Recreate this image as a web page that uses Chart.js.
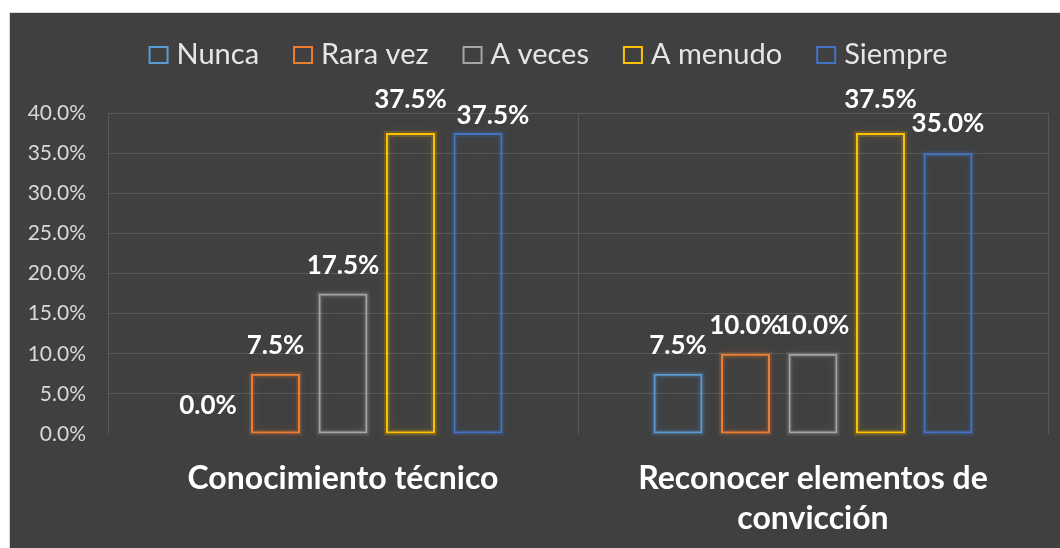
<!DOCTYPE html>
<html><head><meta charset="utf-8">
<script src="https://cdn.jsdelivr.net/npm/chart.js@4.4.0/dist/chart.umd.min.js"></script>
<style>
html,body{margin:0;padding:0;background:#fff;width:1060px;height:548px;overflow:hidden}
#frame{position:absolute;left:9px;top:12px;width:1050px;height:535px;border-left:1px solid #d9d9d9;border-top:1px solid #d9d9d9;background:#404040}
#wrap{position:absolute;left:10px;top:13px;width:1050px;height:535px}
</style></head><body>
<div id="frame"></div>
<div id="wrap"><canvas id="c" width="1050" height="535"></canvas></div>
<script>
// ---- data ----
const categories = ['Conocimiento técnico', ['Reconocer elementos de', 'convicción']];
const seriesNames = ['Nunca', 'Rara vez', 'A veces', 'A menudo', 'Siempre'];
const nunca   = [0.0, 7.5];
const raraVez = [7.5, 10.0];
const aVeces  = [17.5, 10.0];
const aMenudo = [37.5, 37.5];
const siempre = [37.5, 35.0];
const yMin = 0, yMax = 40, yStep = 5;

// ---- styles ----
const seriesColors = ['#5B9BD5', '#ED7D31', '#A5A5A5', '#FFC000', '#4472C4'];
const seriesValues = [nunca, raraVez, aVeces, aMenudo, siempre];

function rgba(hex, a) {
  const n = parseInt(hex.slice(1), 16);
  return `rgba(${(n >> 16) & 255},${(n >> 8) & 255},${n & 255},${a})`;
}

const glowPlugin = {
  id: 'glow',
  beforeDatasetsDraw(chart) {
    const ctx = chart.ctx;
    chart.data.datasets.forEach((ds, i) => {
      const meta = chart.getDatasetMeta(i);
      meta.data.forEach(el => {
        const p = el.getProps(['x', 'y', 'base', 'width'], true);
        if (Math.abs(p.base - p.y) < 1) return;
        ctx.save();
        ctx.shadowColor = rgba(ds.borderColor, 0.55);
        ctx.shadowBlur = 10;
        ctx.strokeStyle = rgba(ds.borderColor, 0.18);
        ctx.lineWidth = 6;
        ctx.strokeRect(p.x - p.width / 2 + 1, p.y + 1, p.width - 2, p.base - p.y - 2);
        ctx.restore();
      });
    });
  }
};

const labelPlugin = {
  id: 'valueLabels',
  afterDatasetsDraw(chart, args, opts) {
    const ctx = chart.ctx;
    ctx.save();
    ctx.font = 'bold 26px Lato';
    ctx.fillStyle = '#ffffff';
    ctx.textAlign = 'center';
    ctx.textBaseline = 'middle';
    chart.data.datasets.forEach((ds, i) => {
      const meta = chart.getDatasetMeta(i);
      meta.data.forEach((el, j) => {
        const nudge = (opts.nudge && opts.nudge[i + '-' + j]) || [0, 0];
        const v = ds.data[j];
        ctx.fillText(v.toFixed(1) + '%', el.x + nudge[0], el.y - opts.offset + nudge[1]);
      });
    });
    ctx.restore();
  }
};

const legendPlugin = {
  id: 'customLegend',
  afterDraw(chart, args, opts) {
    const ctx = chart.ctx;
    ctx.save();
    ctx.font = opts.font;
    const items = chart.data.datasets.map(ds => ({ text: ds.label, color: ds.borderColor, w: ctx.measureText(ds.label).width }));
    const total = items.reduce((s, it) => s + opts.boxW + opts.boxGap + it.w, 0) + opts.itemGap * (items.length - 1);
    let x = opts.centerX - total / 2;
    const cy = opts.centerY;
    items.forEach(it => {
      ctx.strokeStyle = it.color;
      ctx.lineWidth = 2;
      ctx.strokeRect(x + 1, cy - opts.boxH / 2 + 1, opts.boxW - 2, opts.boxH - 2);
      x += opts.boxW + opts.boxGap;
      ctx.fillStyle = '#e6e6e6';
      ctx.textAlign = 'left';
      ctx.textBaseline = 'middle';
      ctx.fillText(it.text, x, cy);
      x += it.w + opts.itemGap;
    });
    ctx.restore();
  }
};

new Chart(document.getElementById('c'), {
  type: 'bar',
  data: {
    labels: categories,
    datasets: seriesNames.map((name, i) => ({
      label: name,
      data: seriesValues[i],
      backgroundColor: 'rgba(0,0,0,0)',
      borderColor: seriesColors[i],
      borderWidth: 2,
      borderSkipped: false,
      categoryPercentage: 0.718,
      barPercentage: 0.726
    }))
  },
  options: {
    responsive: false,
    animation: false,
    events: [],
    layout: { padding: { top: 100, right: 12, left: 0, bottom: 0 } },
    plugins: {
      legend: { display: false },
      tooltip: { enabled: false },
      valueLabels: { offset: 28, nudge: { '4-0': [15, 11], '3-0': [0, -5], '3-1': [0, -5], '4-1': [0, -2] } },
      customLegend: { font: '29px Lato', boxW: 20, boxH: 18, boxGap: 8, itemGap: 34, centerX: 538, centerY: 42 }
    },
    scales: {
      x: {
        grid: { color: '#595959', lineWidth: 1, drawTicks: false, offset: true },
        border: { display: false },
        ticks: {
          color: '#ffffff',
          font: { family: 'Lato', size: 32, weight: 'bold', lineHeight: 1.25 },
          padding: 25, maxRotation: 0, autoSkip: false
        },
        afterFit(scale) { scale.height = 114; }
      },
      y: {
        min: yMin, max: yMax,
        grid: {
          color: c => (c.tick && c.tick.value === 0) ? 'rgba(0,0,0,0)' : '#595959',
          lineWidth: 1, drawTicks: false
        },
        border: { display: false },
        ticks: {
          stepSize: yStep,
          color: '#d9d9d9',
          font: { family: 'Lato', size: 21 },
          padding: 22,
          callback: v => v.toFixed(1) + '%'
        },
        afterFit(scale) { scale.width = 98; }
      }
    }
  },
  plugins: [glowPlugin, labelPlugin, legendPlugin]
});
</script>
</body></html>
